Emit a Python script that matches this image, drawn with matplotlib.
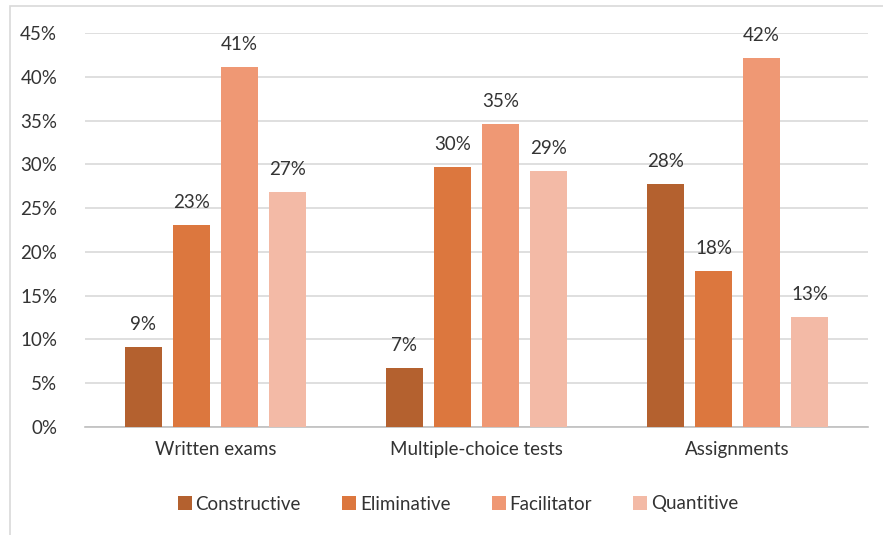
import matplotlib.pyplot as plt
import numpy as np
from matplotlib.patches import Rectangle
from matplotlib.ticker import PercentFormatter

plt.rcParams['font.family'] = ['Lato', 'DejaVu Sans']

categories = ['Written exams', 'Multiple-choice tests', 'Assignments']
series = ['Constructive', 'Eliminative', 'Facilitator', 'Quantitive']
constructive = [9.1, 6.7, 27.7]
eliminative = [23.1, 29.7, 17.8]
facilitator = [41.1, 34.6, 42.2]
quantitive = [26.8, 29.2, 12.6]
colors = ['#b4612f', '#dc773e', '#ef9874', '#f3baa6']

values = [constructive, eliminative, facilitator, quantitive]
text_color = '#333333'

fig = plt.figure(figsize=(8.83, 5.35), dpi=100)
ax = fig.add_axes([85 / 883, 1 - 427 / 535, 783 / 883, 394 / 535])

# light frame around the whole chart
fig.patches.append(Rectangle((10 / 883, -0.01), 1.0, 1 - 6 / 535 + 0.01,
                             transform=fig.transFigure, fill=False,
                             edgecolor='#d9d9d9', linewidth=1.2))

x = np.arange(len(categories))
width = 0.145
step = 0.184
for i, (name, vals, c) in enumerate(zip(series, values, colors)):
    pos = x + (i - 1.5) * step
    ax.bar(pos, vals, width, color=c, label=name, zorder=3)
    for px, v in zip(pos, vals):
        ax.text(px, v + 1.6, f'{round(v)}%', ha='center', va='bottom',
                fontsize=13.5, color=text_color)

ax.set_xlim(-0.5, 2.5)
ax.set_ylim(0, 45)
ax.set_yticks(np.arange(0, 46, 5))
ax.yaxis.set_major_formatter(PercentFormatter(decimals=0))
ax.set_xticks(x)
ax.set_xticklabels(categories)
ax.tick_params(axis='both', length=0, labelsize=13.5, labelcolor=text_color)
ax.tick_params(axis='y', pad=20)
ax.tick_params(axis='x', pad=10)
ax.grid(axis='y', color='#d9d9d9', linewidth=1.2, zorder=0)
for s in ['top', 'right', 'left']:
    ax.spines[s].set_visible(False)
ax.spines['bottom'].set_color('#bfbfbf')
ax.spines['bottom'].set_linewidth(1.2)

ax.legend(loc='center', bbox_to_anchor=(458 / 883, 1 - 504 / 535),
          bbox_transform=fig.transFigure, ncol=4, frameon=False,
          fontsize=13.5, handlelength=0.75, handleheight=0.75,
          handletextpad=0.2, columnspacing=2.2, labelcolor=text_color)

fig.savefig('out.png', dpi=100)
